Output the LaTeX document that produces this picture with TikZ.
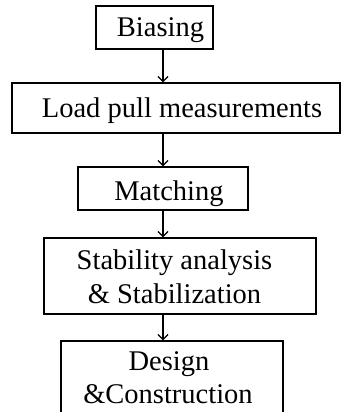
\documentclass[tikz,border=0pt]{standalone}
\usepackage{fontspec}
\setmainfont{Liberation Serif}
\usetikzlibrary{arrows.meta}
\begin{document}
\begin{tikzpicture}[x=1pt,y=1pt,
  box/.style={draw, line width=1.3pt, inner sep=0pt},
  txt/.style={anchor=base, inner sep=0pt, font=\fontsize{28.5}{33}\selectfont},
  flow/.style={line width=1.3pt, -{Straight Barb[length=5pt,width=10pt]}}]
\useasboundingbox (0,0) rectangle (341,-412);
\coordinate (ax) at (163,0);
\node[box, minimum width=117pt, minimum height=43pt] (b1) at (154.5,-27.5) {};
\node[box, minimum width=328pt, minimum height=50pt] (b2) at (176,-108) {};
\node[box, minimum width=170pt, minimum height=43pt] (b3) at (163,-188.5) {};
\node[box, minimum width=272pt, minimum height=76pt] (b4) at (180,-276) {};
\node[box, minimum width=222pt, minimum height=74pt] (b5) at (172,-378) {};
\node[txt] (t1) at (160.5,-37) {Biasing};
\node[txt] (t2) at (182,-117) {Load pull measurements};
\node[txt] (t3) at (169,-200) {Matching};
\node[txt] (t4a) at (174.5,-269) {Stability analysis};
\node[txt] (t4b) at (174.5,-303) {\& Stabilization};
\node[txt] (t5a) at (169,-370) {Design};
\node[txt] (t5b) at (168,-403) {\&Construction};
\draw[flow] (b1.south -| ax) -- (b2.north -| ax);
\draw[flow] (b2.south -| ax) -- (b3.north -| ax);
\draw[flow] (b3.south -| ax) -- (b4.north -| ax);
\draw[flow] (b4.south -| ax) -- (b5.north -| ax);
\end{tikzpicture}
\end{document}
